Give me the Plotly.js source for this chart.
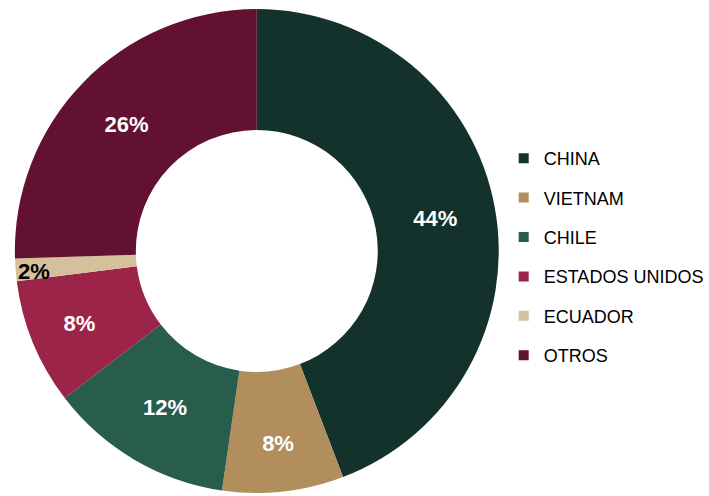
<!DOCTYPE html>
<html>
<head>
<meta charset="utf-8">
<script src="https://cdn.plot.ly/plotly-3.0.1.min.js"></script>
<style>html,body{margin:0;padding:0;background:#fff;}#chart{width:709px;height:496px;}</style>
</head>
<body>
<div id="chart"></div>
<script>
const categories = ["CHINA", "VIETNAM", "CHILE", "ESTADOS UNIDOS", "ECUADOR", "OTROS"];
const values = [44.2, 8.1, 12.3, 8.4, 1.5, 25.5];
const pctLabels = ["44%", "8%", "12%", "8%", "2%", "26%"];
const colors = ["#13322B", "#B38E5D", "#285C4D", "#9D2449", "#D4C19C", "#621132"];

const W = 709, H = 496;
const FONT = "Arial, 'Liberation Sans', sans-serif";

// the thin ECUADOR slice carries its label as an annotation at the ring edge
const sliceText = pctLabels.map((t, i) => (i === 4 ? "" : t));

const traces = [{
  type: "pie",
  labels: categories,
  values: values,
  text: sliceText,
  textinfo: "text",
  sort: false,
  direction: "clockwise",
  rotation: 0,
  hole: 0.5,
  marker: { colors: colors, line: { width: 0 } },
  textposition: "inside",
  insidetextorientation: "horizontal",
  textfont: { family: FONT, size: 22, color: "#FFFFFF", weight: "bold" },
  hoverinfo: "label+percent",
  showlegend: false,
  domain: { x: [15 / W, 503 / W], y: [0, 1 - 6 / H] }
}];

categories.forEach((c, i) => {
  traces.push({
    type: "scatter",
    mode: "markers",
    x: [null], y: [null],
    name: c,
    legendgroup: "g" + i,
    marker: { symbol: "square", size: 10, color: colors[i], line: { width: 0 } },
    showlegend: true,
    hoverinfo: "skip"
  });
});

const layout = {
  width: W, height: H,
  margin: { l: 0, r: 0, t: 0, b: 0 },
  paper_bgcolor: "#FFFFFF",
  plot_bgcolor: "rgba(0,0,0,0)",
  font: { family: FONT, color: "#000000" },
  xaxis: { visible: false },
  yaxis: { visible: false },
  showlegend: true,
  legend: {
    x: 508 / W, xanchor: "left",
    y: 1 - 257 / H, yanchor: "middle",
    bgcolor: "rgba(0,0,0,0)",
    font: { family: FONT, size: 18, color: "#000000" },
    tracegroupgap: 13,
    itemwidth: 30
  },
  annotations: [{
    xref: "paper", yref: "paper",
    x: 34 / W, y: 1 - 271 / H,
    xanchor: "center", yanchor: "middle",
    text: pctLabels[4],
    showarrow: false,
    font: { family: FONT, size: 22, color: "#000000", weight: "bold" }
  }]
};

Plotly.newPlot("chart", traces, layout, { displayModeBar: false, staticPlot: true });
</script>
</body>
</html>
